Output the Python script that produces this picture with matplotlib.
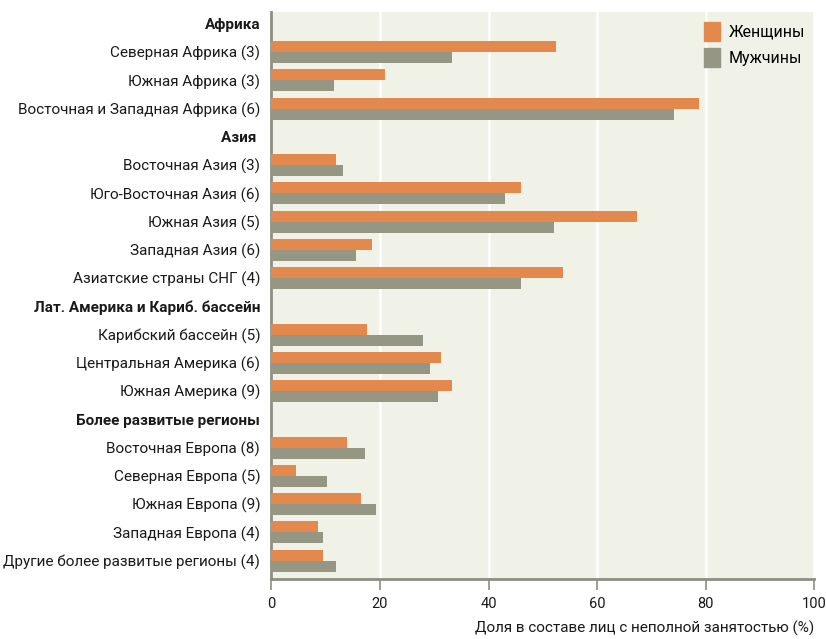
import numpy as np
import matplotlib
matplotlib.use('Agg')
import matplotlib.pyplot as plt
from matplotlib.patches import Patch

plt.rcParams['font.family'] = ['Roboto', 'DejaVu Sans']

# region headers and the rows under them
groups = ['Африка', 'Азия ', 'Лат. Америка и Кариб. бассейн', 'Более развитые регионы']
regions = [
    ['Северная Африка (3)', 'Южная Африка (3)', 'Восточная и Западная Африка (6)'],
    ['Восточная Азия (3)', 'Юго-Восточная Азия (6)', 'Южная Азия (5)',
     'Западная Азия (6)', 'Азиатские страны СНГ (4)'],
    ['Карибский бассейн (5)', 'Центральная Америка (6)', 'Южная Америка (9)'],
    ['Восточная Европа (8)', 'Северная Европа (5)', 'Южная Европа (9)',
     'Западная Европа (4)', 'Другие более развитые регионы (4)'],
]
women = [
    [52.4, 21.0, 78.8],
    [11.9, 46.0, 67.3, 18.5, 53.7],
    [17.6, 31.2, 33.3],
    [13.9, 4.5, 16.5, 8.6, 9.5],
]
men = [
    [33.3, 11.5, 74.2],
    [13.2, 43.0, 52.1, 15.6, 46.0],
    [27.9, 29.2, 30.7],
    [17.3, 10.3, 19.3, 9.5, 11.9],
]

col_women = '#e3894d'
col_men = '#959684'
bg = '#f0f1e7'
spine = '#8e8f82'
fs = 11

fig = plt.figure(figsize=(8.26, 6.39), dpi=100)
ax = fig.add_axes([271.3 / 826, 1 - 578.7 / 639, 543 / 826, (578.7 - 12) / 639])
ax.set_facecolor(bg)

labels, bold, w_vals, m_vals = [], [], [], []
for g, names, w, m in zip(groups, regions, women, men):
    labels.append(g)
    bold.append(True)
    w_vals.append(np.nan)
    m_vals.append(np.nan)
    labels += names
    bold += [False] * len(names)
    w_vals += w
    m_vals += m

y = np.arange(len(labels))
h = 0.39
ax.barh(y - h / 2, w_vals, height=h, color=col_women, zorder=3)
ax.barh(y + h / 2, m_vals, height=h, color=col_men, zorder=3)

ax.set_xlim(0, 100)
ax.set_ylim(len(labels) - 1 + 0.64, -0.42)
ax.set_xticks([0, 20, 40, 60, 80, 100])
ax.grid(axis='x', color='white', linewidth=1.8, zorder=1)
ax.tick_params(axis='x', direction='out', length=8, width=1.2, color=spine,
               labelsize=10.5, pad=5, labelcolor='#1a1a1a')
ax.set_yticks(y)
ax.set_yticklabels(labels)
ax.tick_params(axis='y', length=0, pad=8, labelsize=fs, labelcolor='#1a1a1a')
for lab, b in zip(ax.get_yticklabels(), bold):
    if b:
        lab.set_fontweight('bold')

for s in ['top', 'right']:
    ax.spines[s].set_visible(False)
for s in ['left', 'bottom']:
    ax.spines[s].set_color(spine)
    ax.spines[s].set_linewidth(2)

ax.set_xlabel('Доля в составе лиц с неполной занятостью (%)', fontsize=fs,
              loc='right', labelpad=7, color='#1a1a1a')

handles = [Patch(color=col_women, label='Женщины'), Patch(color=col_men, label='Мужчины')]
ax.legend(handles=handles, loc='upper right', frameon=False, fontsize=11.5,
          handlelength=1.05, handleheight=1.45, handletextpad=0.5,
          borderaxespad=0.2, labelspacing=0.45)

fig.savefig('out.png', dpi=100)
